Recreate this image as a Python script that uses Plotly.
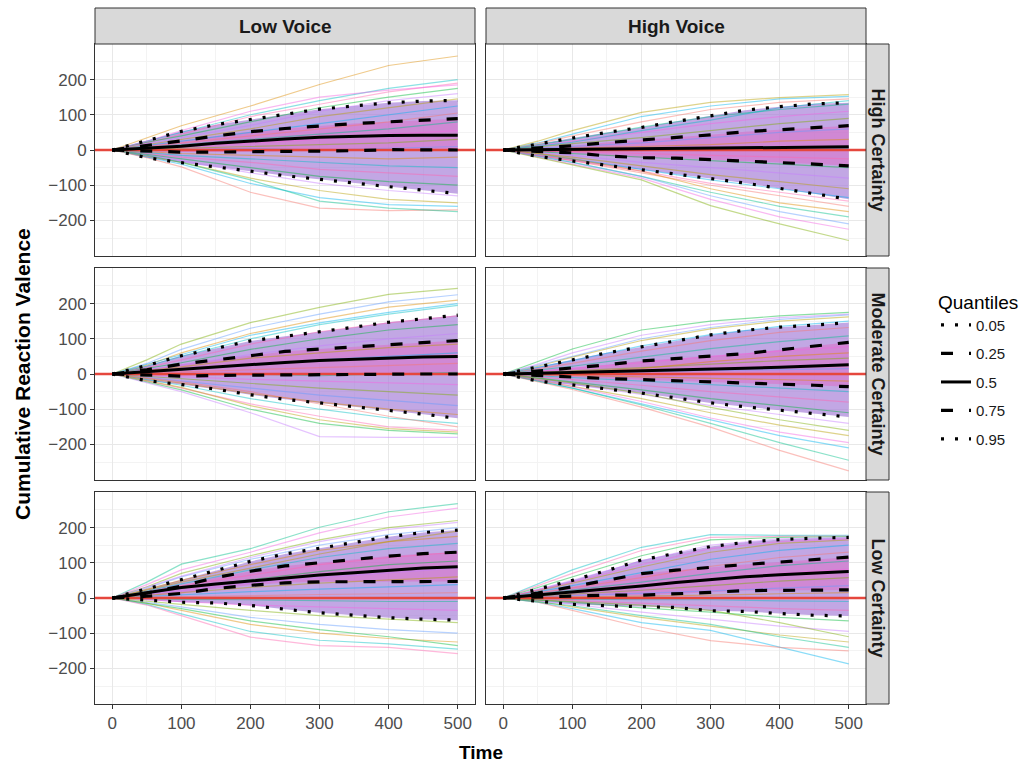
import plotly.graph_objects as go

W, H = 1028, 766

# ---------------- data ----------------
COLS = ["Low Voice", "High Voice"]
ROWS = ["High Certainty", "Moderate Certainty", "Low Certainty"]
QUANT_LABELS = ["0.05", "0.25", "0.5", "0.75", "0.95"]
X_TICKS = [0, 100, 200, 300, 400, 500]
Y_TICKS = [-200, -100, 0, 100, 200]

T_Q = [0, 50, 100, 150, 200, 250, 300, 350, 400, 450, 500]
T_SP = [0, 50, 100, 200, 300, 400, 500]

# quantiles [q05, q25, q50, q75, q95] at T_Q
QUANT_LV_HC = [
    [0, -22, -36, -47, -60, -73, -84, -93, -104, -114, -124],
    [0, -4, -6, -6, -5, -4, -4, -2, 1, 0, 0],
    [0, 5, 11, 19, 26, 31, 36, 39, 41, 42, 42],
    [0, 12, 26, 40, 52, 61, 69, 75, 80, 85, 89],
    [0, 26, 53, 72, 87, 100, 116, 125, 134, 139, 141],
]
QUANT_HV_HC = [
    [0, -18, -31, -43, -57, -69, -81, -94, -108, -124, -140],
    [0, -3, -8, -17, -22, -23, -27, -30, -34, -40, -45],
    [0, 1, 2, 3, 4, 5, 6, 7, 8, 8, 9],
    [0, 6, 12, 21, 28, 36, 43, 52, 58, 64, 69],
    [0, 18, 34, 50, 64, 81, 97, 113, 123, 131, 134],
]
QUANT_LV_MC = [
    [0, -19, -30, -43, -59, -72, -82, -92, -104, -114, -126],
    [0, -4, -6, -4, -3, -2, -2, -1, -1, 0, 0],
    [0, 7, 14, 21, 28, 33, 38, 42, 45, 48, 50],
    [0, 12, 28, 40, 53, 64, 71, 77, 83, 91, 95],
    [0, 24, 52, 74, 94, 107, 119, 133, 147, 158, 167],
]
QUANT_HV_MC = [
    [0, -20, -31, -42, -54, -68, -82, -93, -103, -113, -122],
    [0, -5, -9, -13, -16, -19, -21, -24, -27, -32, -36],
    [0, 2, 4, 6, 8, 11, 13, 16, 19, 23, 26],
    [0, 8, 16, 26, 37, 45, 51, 58, 69, 81, 90],
    [0, 20, 42, 60, 77, 95, 111, 124, 133, 139, 146],
]
QUANT_LV_LC = [
    [0, -6, -12, -14, -21, -32, -42, -49, -56, -60, -63],
    [0, 5, 13, 27, 36, 43, 46, 46, 47, 47, 47],
    [0, 16, 30, 40, 49, 58, 65, 72, 79, 85, 89],
    [0, 14, 34, 58, 76, 91, 100, 110, 119, 126, 130],
    [0, 26, 52, 78, 104, 125, 142, 158, 174, 186, 193],
]
QUANT_HV_LC = [
    [0, -8, -18, -22, -24, -27, -36, -38, -44, -49, -51],
    [0, 3, 7, 8, 8, 11, 16, 21, 22, 23, 23],
    [0, 8, 16, 25, 34, 44, 53, 60, 66, 71, 75],
    [0, 14, 32, 50, 69, 79, 88, 95, 102, 108, 116],
    [0, 24, 50, 78, 108, 127, 146, 158, 166, 170, 172],
]

# individual simulated paths (sample) at T_SP
SPAG_LV_HC = [
    [0, 35, 69, 125, 186, 240, 267], [0, 25, 50, 100, 140, 175, 200],
    [0, 20, 45, 95, 130, 165, 190], [0, 22, 40, 80, 120, 150, 175],
    [0, 18, 35, 70, 110, 140, 160], [0, 15, 30, 60, 95, 120, 145],
    [0, 12, 25, 50, 75, 100, 125], [0, 10, 20, 40, 60, 80, 105],
    [0, 8, 15, 30, 45, 60, 80], [0, 5, 10, 20, 30, 45, 55],
    [0, 3, 5, 10, 15, 20, 30], [0, -2, 0, 5, 0, 5, 10],
    [0, -5, -10, -15, -20, -25, -20], [0, -8, -15, -25, -35, -45, -50],
    [0, -10, -20, -35, -55, -65, -75], [0, -12, -25, -50, -75, -90, -100],
    [0, -15, -30, -65, -95, -115, -130], [0, -18, -35, -80, -115, -140, -150],
    [0, -20, -40, -95, -135, -155, -160], [0, -22, -48, -120, -165, -172, -170],
    [0, -15, -35, -85, -145, -165, -175], [0, 25, 55, 110, 150, 170, 185],
]
SPAG_HV_HC = [
    [0, 25, 55, 107, 135, 149, 157], [0, 20, 45, 95, 125, 145, 152],
    [0, 18, 40, 80, 115, 135, 145], [0, 15, 30, 65, 95, 115, 130],
    [0, 12, 25, 50, 75, 95, 110], [0, 8, 18, 35, 55, 75, 90],
    [0, 5, 10, 20, 35, 50, 60], [0, 3, 5, 10, 15, 25, 30],
    [0, 0, 2, 0, 5, 10, 5], [0, -3, -5, -10, -15, -20, -25],
    [0, -5, -10, -20, -30, -40, -50], [0, -8, -15, -35, -50, -65, -80],
    [0, -10, -20, -45, -70, -90, -110], [0, -12, -25, -55, -85, -110, -135],
    [0, -15, -30, -65, -100, -130, -160], [0, -18, -35, -75, -120, -160, -190],
    [0, -20, -38, -80, -140, -190, -225], [0, -22, -42, -85, -158, -210, -257],
    [0, -18, -35, -75, -130, -175, -210], [0, -10, -25, -60, -110, -150, -175],
    [0, 10, 22, 55, 85, 120, 140], [0, -15, -28, -60, -95, -120, -145],
]
SPAG_LV_MC = [
    [0, 40, 85, 146, 189, 226, 243], [0, 30, 70, 130, 170, 205, 225],
    [0, 25, 60, 115, 155, 190, 210], [0, 22, 50, 100, 140, 170, 195],
    [0, 18, 40, 85, 120, 145, 165], [0, 15, 32, 70, 100, 125, 140],
    [0, 12, 25, 55, 80, 100, 115], [0, 10, 20, 45, 60, 75, 85],
    [0, 6, 12, 25, 40, 50, 60], [0, 3, 6, 12, 18, 25, 30],
    [0, 0, 2, 0, -5, 0, 5], [0, -4, -8, -15, -20, -25, -30],
    [0, -7, -14, -28, -40, -50, -60], [0, -10, -20, -40, -60, -75, -90],
    [0, -13, -26, -55, -80, -100, -115], [0, -16, -32, -70, -100, -125, -140],
    [0, -20, -40, -85, -120, -150, -160], [0, -22, -45, -100, -140, -160, -170],
    [0, -25, -50, -110, -178, -180, -180], [0, -18, -38, -90, -130, -155, -165],
    [0, 28, 55, 110, 145, 175, 200], [0, -12, -22, -50, -85, -120, -150],
]
SPAG_HV_MC = [
    [0, 35, 71, 125, 150, 165, 175], [0, 28, 60, 110, 140, 160, 170],
    [0, 22, 48, 95, 128, 150, 162], [0, 18, 38, 80, 112, 135, 150],
    [0, 14, 30, 65, 95, 118, 132], [0, 10, 22, 48, 72, 92, 108],
    [0, 7, 15, 32, 50, 65, 78], [0, 4, 8, 18, 28, 38, 45],
    [0, 1, 3, 6, 10, 12, 15], [0, -2, -4, -8, -12, -15, -20],
    [0, -5, -10, -20, -30, -40, -50], [0, -8, -15, -32, -50, -65, -80],
    [0, -11, -22, -45, -70, -90, -110], [0, -14, -28, -58, -90, -115, -140],
    [0, -17, -34, -70, -110, -145, -175], [0, -20, -40, -85, -130, -175, -210],
    [0, -22, -44, -94, -151, -217, -275], [0, -20, -40, -88, -140, -195, -245],
    [0, -18, -36, -78, -125, -165, -195], [0, -12, -25, -55, -95, -130, -160],
    [0, 25, 52, 100, 132, 155, 168], [0, 0, 5, 15, 35, 50, 60],
]
SPAG_LV_LC = [
    [0, 45, 96, 140, 201, 245, 268], [0, 38, 80, 130, 185, 230, 255],
    [0, 32, 70, 120, 165, 200, 220], [0, 28, 60, 110, 150, 180, 200],
    [0, 24, 50, 95, 135, 160, 175], [0, 20, 42, 80, 115, 140, 155],
    [0, 17, 35, 65, 95, 115, 130], [0, 14, 28, 52, 75, 95, 105],
    [0, 11, 22, 42, 58, 72, 85], [0, 8, 16, 30, 42, 52, 60],
    [0, 5, 10, 18, 25, 32, 38], [0, 2, 4, 8, 10, 12, 15],
    [0, -2, -4, -5, -8, -10, -10], [0, -5, -10, -20, -25, -30, -35],
    [0, -8, -18, -35, -50, -60, -70], [0, -12, -25, -55, -75, -90, -100],
    [0, -15, -35, -75, -100, -115, -125], [0, -18, -45, -95, -120, -130, -145],
    [0, -20, -50, -111, -135, -140, -158], [0, -14, -30, -65, -90, -110, -135],
    [0, 30, 62, 115, 160, 195, 215], [0, 22, 45, 85, 125, 160, 190],
]
SPAG_HV_LC = [
    [0, 40, 80, 144, 180, 178, 178], [0, 35, 70, 135, 172, 175, 176],
    [0, 30, 60, 120, 165, 172, 174], [0, 25, 50, 105, 150, 168, 172],
    [0, 20, 42, 88, 130, 155, 165], [0, 17, 35, 72, 110, 135, 150],
    [0, 14, 28, 58, 90, 115, 130], [0, 11, 22, 45, 70, 92, 105],
    [0, 8, 16, 34, 52, 70, 82], [0, 5, 10, 22, 35, 48, 58],
    [0, 3, 6, 12, 20, 28, 35], [0, 1, 2, 4, 8, 12, 15],
    [0, -2, -3, -5, -5, -8, -10], [0, -4, -8, -15, -22, -30, -35],
    [0, -6, -12, -28, -40, -55, -65], [0, -8, -18, -40, -60, -80, -95],
    [0, -10, -25, -55, -80, -105, -125], [0, -12, -30, -70, -92, -140, -187],
    [0, -12, -35, -83, -121, -140, -150], [0, -10, -22, -50, -75, -110, -140],
    [0, 22, 45, 95, 140, 160, 168], [0, -5, -10, -20, -35, -70, -110],
]

PANELS = [
    [(QUANT_LV_HC, SPAG_LV_HC), (QUANT_HV_HC, SPAG_HV_HC)],
    [(QUANT_LV_MC, SPAG_LV_MC), (QUANT_HV_MC, SPAG_HV_MC)],
    [(QUANT_LV_LC, SPAG_LV_LC), (QUANT_HV_LC, SPAG_HV_LC)],
]

# ---------------- styles ----------------
PALETTE = ["#F8766D", "#DE8C00", "#B79F00", "#7CAE00", "#00BA38", "#00C08B",
           "#00BFC4", "#00B4F0", "#619CFF", "#C77CFF", "#F564E3", "#FF64B0"]
Q_STYLE = {
    "0.05": dict(dash="3px,11px", width=3.2),
    "0.25": dict(dash="12px,16px", width=3.2),
    "0.5": dict(dash="solid", width=3),
    "0.75": dict(dash="12px,16px", width=3.2),
    "0.95": dict(dash="3px,11px", width=3.2),
}
FONT = "Liberation Sans, Arial, sans-serif"
X_RANGE = [-25, 525]
Y_RANGE = [-301, 301]

xdom_px = [(95, 475), (486, 866)]
ydom_px = [(44, 256), (268, 480), (492, 704)]
xdom = [(a / W, b / W) for a, b in xdom_px]
ydom = [(1 - b / H, 1 - a / H) for a, b in ydom_px]

fig = go.Figure()
layout = {}

for r in range(3):
    for c in range(2):
        k = r * 2 + c + 1
        sfx = "" if k == 1 else str(k)
        xa, ya = "x" + sfx, "y" + sfx
        quant, spag = PANELS[r][c]

        # density band of paths
        fig.add_trace(go.Scatter(x=T_Q, y=quant[0], xaxis=xa, yaxis=ya, mode="lines",
                                 line=dict(width=0), showlegend=False, hoverinfo="skip"))
        fig.add_trace(go.Scatter(x=T_Q, y=quant[4], xaxis=xa, yaxis=ya, mode="lines",
                                 line=dict(width=0), fill="tonexty",
                                 fillcolor="rgba(165,125,215,0.68)",
                                 showlegend=False, hoverinfo="skip"))
        fig.add_trace(go.Scatter(x=T_Q, y=quant[1], xaxis=xa, yaxis=ya, mode="lines",
                                 line=dict(width=0), showlegend=False, hoverinfo="skip"))
        fig.add_trace(go.Scatter(x=T_Q, y=quant[3], xaxis=xa, yaxis=ya, mode="lines",
                                 line=dict(width=0), fill="tonexty",
                                 fillcolor="rgba(222,105,195,0.5)",
                                 showlegend=False, hoverinfo="skip"))

        # individual paths
        for i, path in enumerate(spag):
            fig.add_trace(go.Scatter(x=T_SP, y=path, xaxis=xa, yaxis=ya, mode="lines",
                                     line=dict(color=PALETTE[(i * 5 + k) % len(PALETTE)], width=1.2),
                                     opacity=0.45, showlegend=False, hoverinfo="skip"))

        # zero reference line
        fig.add_trace(go.Scatter(x=X_RANGE, y=[0, 0], xaxis=xa, yaxis=ya, mode="lines",
                                 line=dict(color="#E5473D", width=2.6),
                                 showlegend=False, hoverinfo="skip"))

        # quantile lines
        for qi, lab in enumerate(QUANT_LABELS):
            st = Q_STYLE[lab]
            fig.add_trace(go.Scatter(x=T_Q, y=quant[qi], xaxis=xa, yaxis=ya, mode="lines",
                                     line=dict(color="black", width=st["width"], dash=st["dash"]),
                                     name=lab, legendgroup=lab, showlegend=(k == 1)))

        bottom = r == 2
        left = c == 0
        layout["xaxis" + sfx] = dict(
            domain=xdom[c], anchor=ya, range=X_RANGE, tickvals=X_TICKS,
            showticklabels=bottom, ticks="outside" if bottom else "", ticklen=4,
            tickcolor="#333333", tickfont=dict(family=FONT, size=17, color="#4D4D4D"),
            showgrid=True, gridcolor="#E8E8E8", gridwidth=1.2, zeroline=False,
            minor=dict(dtick=50, tick0=0, showgrid=True, gridcolor="#F3F3F3", gridwidth=1),
            showline=True, mirror=True, linecolor="#333333", linewidth=1,
            matches="x" if k != 1 else None,
        )
        layout["yaxis" + sfx] = dict(
            domain=ydom[r], anchor=xa, range=Y_RANGE, tickvals=Y_TICKS,
            showticklabels=left, ticks="outside" if left else "", ticklen=4,
            tickcolor="#333333", tickfont=dict(family=FONT, size=17, color="#4D4D4D"),
            showgrid=True, gridcolor="#E8E8E8", gridwidth=1.2, zeroline=False,
            minor=dict(dtick=50, tick0=0, showgrid=True, gridcolor="#F3F3F3", gridwidth=1),
            showline=True, mirror=True, linecolor="#333333", linewidth=1,
        )

shapes = []
annotations = []
# top strips
for c, lab in enumerate(COLS):
    x0, x1 = xdom_px[c]
    shapes.append(dict(type="rect", xref="paper", yref="paper", x0=x0 / W, x1=x1 / W,
                       y0=1 - 44 / H, y1=1 - 8 / H, fillcolor="#D9D9D9",
                       line=dict(color="#333333", width=1), layer="above"))
    annotations.append(dict(text="<b>%s</b>" % lab, xref="paper", yref="paper",
                            x=(x0 + x1) / 2 / W, y=1 - 26 / H, showarrow=False,
                            xanchor="center", yanchor="middle",
                            font=dict(family=FONT, size=19, color="#1A1A1A")))
# right strips
for r, lab in enumerate(ROWS):
    y0, y1 = ydom_px[r]
    shapes.append(dict(type="rect", xref="paper", yref="paper", x0=866 / W, x1=889 / W,
                       y0=1 - y1 / H, y1=1 - y0 / H, fillcolor="#D9D9D9",
                       line=dict(color="#333333", width=1), layer="above"))
    annotations.append(dict(text="<b>%s</b>" % lab, xref="paper", yref="paper",
                            x=877.5 / W, y=1 - (y0 + y1) / 2 / H, showarrow=False, textangle=90,
                            xanchor="center", yanchor="middle",
                            font=dict(family=FONT, size=18, color="#1A1A1A")))
# axis titles
annotations.append(dict(text="<b>Time</b>", xref="paper", yref="paper", x=481 / W, y=1 - 752 / H,
                        showarrow=False, xanchor="center", yanchor="middle",
                        font=dict(family=FONT, size=19, color="black")))
annotations.append(dict(text="<b>Cumulative Reaction Valence</b>", xref="paper", yref="paper",
                        x=22 / W, y=1 - 374 / H, showarrow=False, textangle=-90,
                        xanchor="center", yanchor="middle",
                        font=dict(family=FONT, size=21, color="black")))

layout.update(
    width=W, height=H, margin=dict(l=0, r=0, t=0, b=0),
    paper_bgcolor="white", plot_bgcolor="white",
    shapes=shapes, annotations=annotations,
    showlegend=True,
    legend=dict(x=936 / W, y=1 - 284 / H, xanchor="left", yanchor="top",
                title=dict(text="Quantiles", font=dict(family=FONT, size=19, color="black")),
                font=dict(family=FONT, size=15, color="#1A1A1A"),
                tracegroupgap=6, bgcolor="rgba(0,0,0,0)"),
)
fig.update_layout(**layout)
fig.write_html("out.html")
